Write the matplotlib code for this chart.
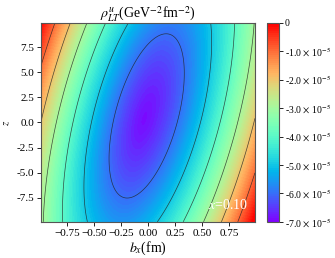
import numpy as np
import matplotlib
matplotlib.use("Agg")
import matplotlib.pyplot as plt
from matplotlib.ticker import FuncFormatter

plt.rcParams["font.family"] = ["Liberation Serif", "DejaVu Serif"]
plt.rcParams["mathtext.fontset"] = "stix"

# --- shape parameters (sheared elliptical well)
bx_range = (-0.99, 0.99)
z_range = (-9.9, 9.9)
f_min = -6.9e-5          # depth at the centre
f_scale = 5.0e-5         # rise from centre to R = 1
tilt = -0.3e-5           # linear slope along bx (left side higher)
center = (-0.04, 0.3)    # (bx, z) of the minimum
shear = 0.022            # bx shift per unit z
half_bx = 1.0            # semi axis in bx
half_z = 27.5            # semi axis in z
power = 1.42

cbar_ticks = [0, -1e-5, -2e-5, -3e-5, -4e-5, -5e-5, -6e-5, -7e-5]
line_levels = [-6e-5, -5e-5, -4e-5, -3e-5, -2e-5, -1e-5]

bx = np.linspace(*bx_range, 300)
z = np.linspace(*z_range, 300)
BX, Z = np.meshgrid(bx, z)
W = BX - center[0] - shear * (Z - center[1])
R = np.sqrt((W / half_bx) ** 2 + ((Z - center[1]) / half_z) ** 2)
rho = np.clip(f_min + f_scale * R ** power + tilt * BX, -7e-5, 0)

fig = plt.figure(figsize=(3.35, 2.58), dpi=100)
ax = fig.add_axes([0.122, 0.14, 0.639, 0.771])
cax = fig.add_axes([0.798, 0.14, 0.034, 0.771])

cf = ax.contourf(BX, Z, rho, levels=np.linspace(-7e-5, 0, 101), cmap="rainbow")
ax.contour(BX, Z, rho, levels=line_levels, colors="#222222", linewidths=0.5,
           linestyles="solid", alpha=0.8)

ax.set_xticks([-0.75, -0.5, -0.25, 0, 0.25, 0.5, 0.75])
ax.set_yticks([-7.5, -5, -2.5, 0, 2.5, 5, 7.5])
ax.yaxis.set_major_formatter(FuncFormatter(lambda v, p: f"{v:.1f}"))
ax.tick_params(labelsize=8, length=3, width=0.6, pad=2)
for s in ax.spines.values():
    s.set_color("#555555")

ax.set_title(r"$\rho^{u}_{LT}$(GeV$^{-2}$fm$^{-2}$)", fontsize=10, pad=3)
ax.set_xlabel(r"$b_x$(fm)", fontsize=10, labelpad=1)
ax.set_ylabel(r"$z$", fontsize=8, labelpad=3)
ax.text(0.74, -8.2, r"$x$=0.10", color="white", fontsize=10, ha="center", va="center")

cb = fig.colorbar(cf, cax=cax, ticks=cbar_ticks)
cb.ax.set_yticklabels(["0"] + [rf"-{abs(t) * 1e5:.1f} $\times$ 10$^{{-5}}$" for t in cbar_ticks[1:]])
cb.ax.tick_params(labelsize=7, length=3, width=0.6, pad=1.5)
cb.outline.set_edgecolor("#555555")

fig.savefig("out.png", dpi=100)
